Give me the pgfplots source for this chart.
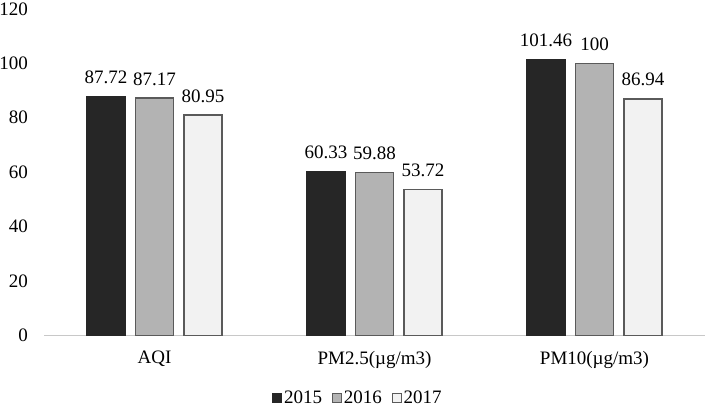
\documentclass[border=0pt]{standalone}
\usepackage{pgfplots}
\pgfplotsset{compat=1.18}
\usepackage{fontspec}
\setmainfont{Liberation Serif}
\definecolor{cA}{HTML}{262626}
\definecolor{cB}{HTML}{B3B3B3}
\definecolor{cC}{HTML}{F2F2F2}
\definecolor{edge}{HTML}{5A5A5A}
\definecolor{axl}{HTML}{C8C8C8}
\begin{document}
\begin{tikzpicture}
\begin{axis}[
  at={(0,0)}, anchor=south west,
  scale only axis,
  width=660bp, height=326.9bp,
  xmin=-0.5, xmax=2.5, ymin=0, ymax=120,
  axis lines=left,
  x axis line style={draw=axl, line width=1.5bp, -},
  y axis line style={draw=none, -},
  ytick={0,20,...,120},
  xtick={0,1,2},
  xticklabels={AQI, PM2.5(µg/m3), PM10(µg/m3)},
  major tick length=0pt,
  tick style={draw=none},
  /pgf/number format/assume math mode=true,
  ticklabel style={font=\fontsize{19bp}{22bp}\selectfont},
  y tick label style={inner sep=0pt, anchor=east, xshift=-16.5bp},
  x tick label style={inner sep=0pt, anchor=north, yshift=-15bp},
  ybar, bar width=0.1727,
  nodes near coords,
  nodes near coords style={font=\fontsize{19bp}{22bp}\selectfont, anchor=south, inner sep=0pt, yshift=12bp, text=black},
  point meta=explicit symbolic,
  legend style={draw=none, at={(0.475,-0.19)}, anchor=center, legend columns=3,
    font=\fontsize{19bp}{22bp}\selectfont, inner sep=0pt,
    /tikz/every even column/.append style={column sep=8bp}},
  legend image code/.code={\draw[#1, line width=0.8bp] (0bp,-4.5bp) rectangle (9bp,4.5bp);},
  legend cell align=left,
]
\addplot[fill=cA, draw=cA, line width=1.2bp, bar shift=-0.2205] coordinates {(0,87.72)[87.72] (1,60.33)[60.33] (2,101.46)[101.46]};
\addplot[fill=cB, draw=edge, line width=1.5bp, bar shift=0] coordinates {(0,87.17)[87.17] (1,59.88)[59.88] (2,100)[100]};
\addplot[fill=cC, draw=edge, line width=1.5bp, bar shift=0.2205] coordinates {(0,80.95)[80.95] (1,53.72)[53.72] (2,86.94)[86.94]};
\legend{2015, 2016, 2017}
\end{axis}
\pgfresetboundingbox
\path[use as bounding box] (-44.5bp,-72bp) rectangle (663.5bp,335.7bp);
\end{tikzpicture}
\end{document}
